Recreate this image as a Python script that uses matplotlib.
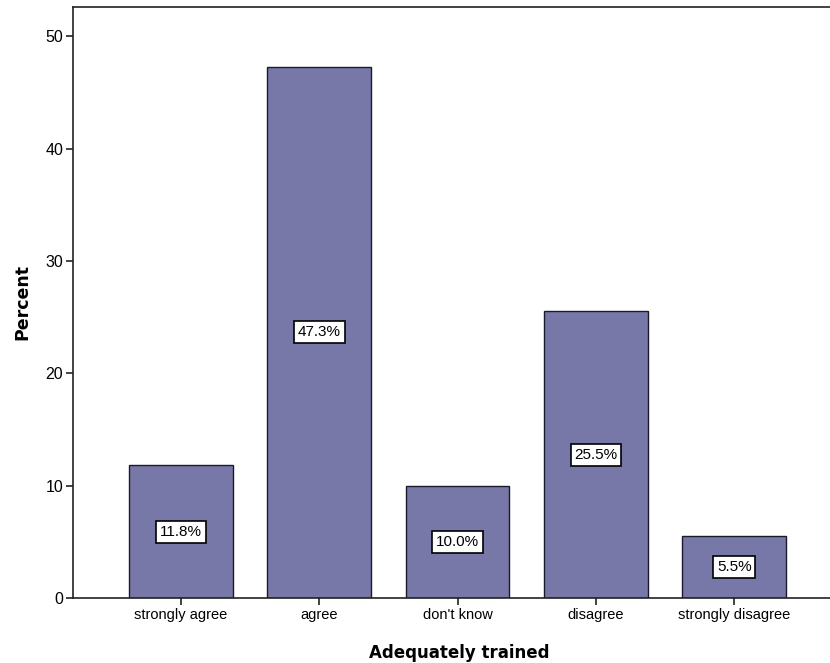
import matplotlib
matplotlib.use("Agg")
import matplotlib.pyplot as plt
import numpy as np

# data
categories = ["strongly agree", "agree", "don't know", "disagree", "strongly disagree"]
percents = [11.8, 47.3, 10.0, 25.5, 5.5]
y_ticks = [0, 10, 20, 30, 40, 50]

bar_color = "#7878a8"

fig = plt.figure(figsize=(8.3, 6.63), dpi=100)
# the plot frame runs past the right edge of the picture (cropped like the original)
ax = fig.add_axes([73 / 830, 65 / 663, (845 - 73) / 830, (598 - 7) / 663])

x = np.arange(len(categories))
ax.bar(x, percents, width=0.75, color=bar_color, edgecolor="#1a1a2a", linewidth=1.0, zorder=2)

# value boxes in the middle of each bar
for xi, v in zip(x, percents):
    ax.text(xi, v / 2, f"{v:.1f}%", ha="center", va="center", fontsize=11,
            family="Liberation Sans", zorder=3,
            bbox=dict(boxstyle="square,pad=0.25", facecolor="white", edgecolor="black", linewidth=1.2))

ax.set_xlim(-0.78, 4.80)
ax.set_ylim(0, 52.6)
ax.set_xticks(x)
ax.set_xticklabels(categories, fontsize=10.5, family="Liberation Sans")
ax.set_yticks(y_ticks)
ax.set_yticklabels([str(t) for t in y_ticks], fontsize=11.5, family="Liberation Sans")
ax.tick_params(axis="both", direction="out", length=5, width=1.2, color="#222222", pad=2)

for s in ["left", "top", "bottom", "right"]:
    ax.spines[s].set_linewidth(1.2)
    ax.spines[s].set_color("#222222")

ax.set_xlabel("Adequately trained", fontsize=12, fontweight="bold", labelpad=16)
ax.set_ylabel("Percent", fontsize=12.5, fontweight="bold", labelpad=10)

fig.savefig("out.png", dpi=100)
